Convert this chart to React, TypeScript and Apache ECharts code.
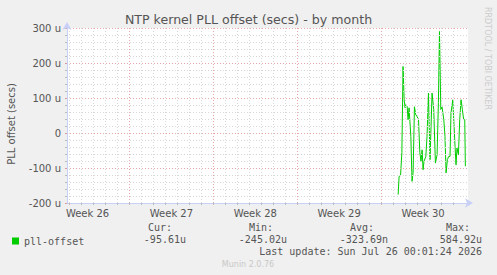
import React, { useEffect, useRef } from "react";
import * as echarts from "echarts";

// time in days since the first daily grid line of the graph
const days = [
  27.42, 27.5, 27.62, 27.73, 27.83, 27.92, 28.0, 28.06, 28.17, 28.25, 28.33, 28.48, 28.58, 28.67,
  28.78, 28.89, 29.0, 29.12, 29.23, 29.33, 29.42, 29.5, 29.58, 29.73, 29.83, 29.95, 30.08, 30.25,
  30.39, 30.53, 30.67, 30.78, 30.87, 30.98, 31.08, 31.23, 31.33, 31.42, 31.53, 31.64, 31.75, 31.83,
  31.98, 32.06, 32.17, 32.25, 32.33, 32.45, 32.56, 32.67, 32.78, 32.89, 32.98, 33.03,
];
// offset in microseconds
const offsets = [
  -176, -124, -122, -56, 190, 95, 72, 81, 76, 38, 72, -10, -138, -113,
  75, 52, 47, 38, -56, -81, -48, -105, -81, -67, -10, 114, -76, 114,
  67, -86, -62, 87, 290, 67, 75, 38, -10, -114, -76, -67, -67, 57,
  95, 38, -38, -91, -43, -62, 38, 95, 67, 38, 38, -95,
];
const dayTicks = Array.from({ length: 33 }, (_, i) => i);
const weekTicks = [5, 12, 19, 26];
const weekLabelPos = [1.5, 8.5, 15.5, 22.5, 29.5];
const weekLabels = ["Week 26", "Week 27", "Week 28", "Week 29", "Week 30"];
const statHeaders = ["Cur:", "Min:", "Avg:", "Max:"];
const statValues = ["-95.61u", "-245.02u", "-323.69n", "584.92u"];

const MONO = "'DejaVu Sans Mono', monospace";
const SANS = "'DejaVu Sans', sans-serif";
const FONT = "#555555";
const MINOR = "#D8D8D8";
const MAJOR = "#E8A8A8";
const AXIS = "#C8D0F8";

export default function App() {
  const ref = useRef<HTMLDivElement>(null);
  useEffect(() => {
    const chart = echarts.init(ref.current!, null, { renderer: "svg" });
    const statRight = [186, 287, 388, 482];
    const graphics: any[] = [
      {
        type: "text", x: 248.5, y: 19,
        style: { text: "NTP kernel PLL offset (secs) - by month", font: `12.6px ${SANS}`, fill: FONT, align: "center", verticalAlign: "middle" },
      },
      {
        type: "text", x: 11, y: 124, rotation: Math.PI / 2,
        style: { text: "PLL offset (secs)", font: `10px ${SANS}`, fill: FONT, align: "center", verticalAlign: "middle" },
      },
      {
        type: "text", x: 487, y: 7, rotation: -Math.PI / 2,
        style: { text: "RRDTOOL / TOBI OETIKER", font: `8px ${SANS}`, fill: "#cccccc", align: "left", verticalAlign: "middle" },
      },
      {
        type: "text", x: 248, y: 264,
        style: { text: "Munin 2.0.76", font: `8px ${SANS}`, fill: "#c8c8c8", align: "center", verticalAlign: "middle" },
      },
      {
        type: "text", x: 482, y: 251.5,
        style: { text: "Last update: Sun Jul 26 00:01:24 2026", font: `10px ${MONO}`, fill: FONT, align: "right", verticalAlign: "middle" },
      },
    ];
    statHeaders.forEach((h, i) => {
      graphics.push({
        type: "text", x: statRight[i] - (i === 3 ? 12 : 14), y: 227.5,
        style: { text: h, font: `10px ${MONO}`, fill: FONT, align: "right", verticalAlign: "middle" },
      });
      graphics.push({
        type: "text", x: statRight[i], y: 239.5,
        style: { text: statValues[i], font: `10px ${MONO}`, fill: FONT, align: "right", verticalAlign: "middle" },
      });
    });

    const option: any = {
      animation: false,
      backgroundColor: "#F0F0F0",
      grid: { left: 67, top: 28, width: 401, height: 175, show: true, backgroundColor: "#FFFFFF", borderWidth: 0 },
      legend: {
        left: 7, top: 231, itemWidth: 7, itemHeight: 7, icon: "rect", itemGap: 5,
        data: ["pll-offset"],
        textStyle: { fontFamily: MONO, fontSize: 10, color: FONT, padding: [0, 0, 0, 0] },
      },
      xAxis: {
        type: "value",
        min: -0.217,
        max: 33.25,
        axisLine: { show: true, onZero: false, lineStyle: { color: AXIS, width: 1 }, symbol: ["none", "arrow"], symbolSize: [7, 8], symbolOffset: [0, 5] },
        axisTick: { show: true, customValues: dayTicks, length: 2, lineStyle: { color: "#bbbbbb" } },
        axisLabel: {
          customValues: weekLabelPos,
          formatter: (v: number) => weekLabels[weekLabelPos.indexOf(v)] ?? "",
          fontFamily: SANS, fontSize: 10, color: FONT, margin: 5,
        },
        splitLine: { show: false },
        z: 5,
      },
      yAxis: {
        type: "value",
        min: -200,
        max: 300,
        interval: 100,
        axisLine: { show: true, onZero: false, lineStyle: { color: AXIS, width: 1 }, symbol: ["none", "arrow"], symbolSize: [7, 8], symbolOffset: [0, 6] },
        axisTick: { show: true, length: 2, lineStyle: { color: "#dd9999" } },
        minorTick: { show: true, splitNumber: 5, length: 2, lineStyle: { color: "#bbbbbb" } },
        axisLabel: {
          formatter: (v: number) => (v === 0 ? "0" : `${v} u`),
          fontFamily: SANS, fontSize: 10, color: FONT, margin: 6,
        },
        splitLine: { show: true, lineStyle: { color: MAJOR, type: [1, 2], width: 1 } },
        minorSplitLine: { show: true, lineStyle: { color: MINOR, type: [1, 2], width: 1 } },
        z: 5,
      },
      series: [
        {
          name: "grid-days",
          type: "line",
          data: [],
          silent: true,
          markLine: {
            silent: true, symbol: "none", label: { show: false },
            lineStyle: { color: MINOR, type: [1, 2], width: 1 },
            data: dayTicks.filter((d) => !weekTicks.includes(d)).map((d) => ({ xAxis: d })),
          },
        },
        {
          name: "grid-weeks",
          type: "line",
          data: [],
          silent: true,
          markLine: {
            silent: true, symbol: "none", label: { show: false },
            lineStyle: { color: MAJOR, type: [1, 2], width: 1 },
            data: weekTicks.map((d) => ({ xAxis: d })),
          },
        },
        {
          name: "pll-offset",
          type: "line",
          data: days.map((d, i) => [d, offsets[i]]),
          showSymbol: false,
          color: "#00CC00",
          lineStyle: { color: "#00CC00", width: 1 },
        },
      ],
      graphic: graphics,
    };
    chart.setOption(option);
    return () => chart.dispose();
  }, []);
  return <div ref={ref} style={{ width: 497, height: 275, position: "absolute", left: 0, top: 0 }} />;
}
